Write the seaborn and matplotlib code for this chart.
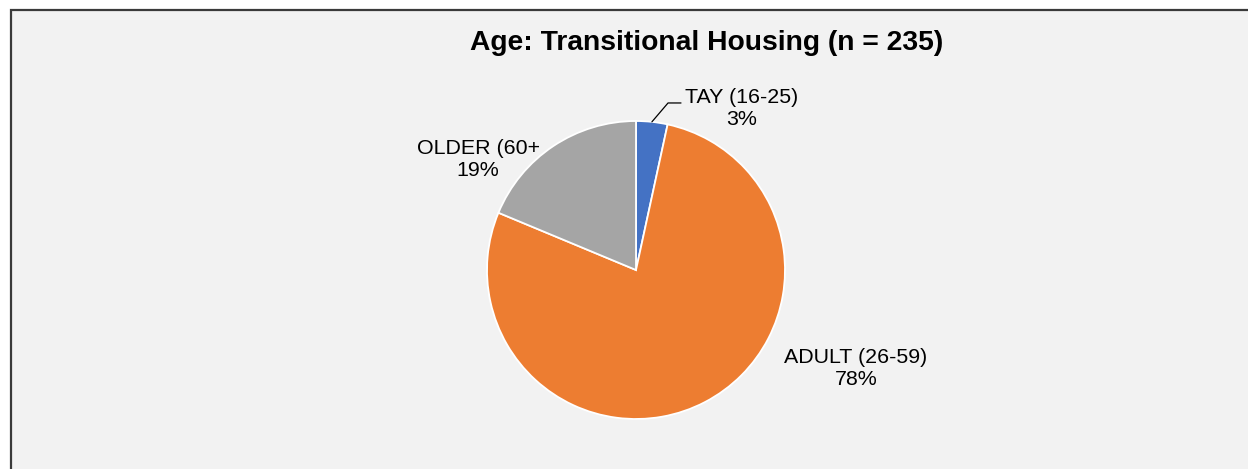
import numpy as np
import matplotlib
matplotlib.use("Agg")
import matplotlib.pyplot as plt
from matplotlib.patches import Rectangle
import seaborn as sns

# Age groups in transitional housing
categories = ["TAY (16-25)", "ADULT (26-59)", "OLDER (60+"]
counts = [8, 183, 44]
colors = sns.color_palette(["#4472C4", "#ED7D31", "#A5A5A5"])

sns.set_theme(style="white")
plt.rcParams["font.family"] = ["Liberation Sans", "DejaVu Sans"]

W, H = 1248, 469
fig = plt.figure(figsize=(W / 100, H / 100), dpi=100)
fig.patch.set_facecolor("white")

# panel background with a dark frame on the top and left
fig.add_artist(Rectangle((11 / W, -0.05), 1.1, (H - 10) / H + 0.05,
                         transform=fig.transFigure, facecolor="#F2F2F2",
                         edgecolor="#3a3a3a", linewidth=1.6, zorder=0))

total = sum(counts)
fig.text(707 / W, 1 - 43 / H, f"Age: Transitional Housing (n = {total})",
         ha="center", va="center", fontsize=20.3, fontweight="bold", color="black")

# pie axes: centre and radius in pixels
cx, cy, r = 636, 270, 149
ax = fig.add_axes([(cx - r) / W, (H - cy - r) / H, 2 * r / W, 2 * r / H])
ax.set_facecolor("none")
wedges, _ = ax.pie(counts, colors=colors, startangle=90, counterclock=False,
                   radius=1.0, wedgeprops=dict(edgecolor="white", linewidth=1.3))
ax.set_xlim(-1, 1)
ax.set_ylim(-1, 1)
ax.set_aspect("equal")
ax.axis("off")

# label anchors in pie-radius units
label_pos = [(0.711, 1.084), (1.477, -0.661), (-1.060, 0.742)]
for w, name, cnt, (lx, ly) in zip(wedges, categories, counts, label_pos):
    pct = round(100 * cnt / total)
    ax.text(lx, ly, f"{name}\n{pct}%", ha="center", va="center",
            fontsize=15.4, color="black", linespacing=1.25, clip_on=False)

# leader line for the small slice
mid = np.deg2rad((wedges[0].theta1 + wedges[0].theta2) / 2)
x0, y0 = np.cos(mid), np.sin(mid)
ax.plot([x0, 0.215, 0.302], [y0, 1.121, 1.121], color="black", lw=0.9,
        clip_on=False)

fig.savefig("out.png", dpi=100, facecolor=fig.get_facecolor())
